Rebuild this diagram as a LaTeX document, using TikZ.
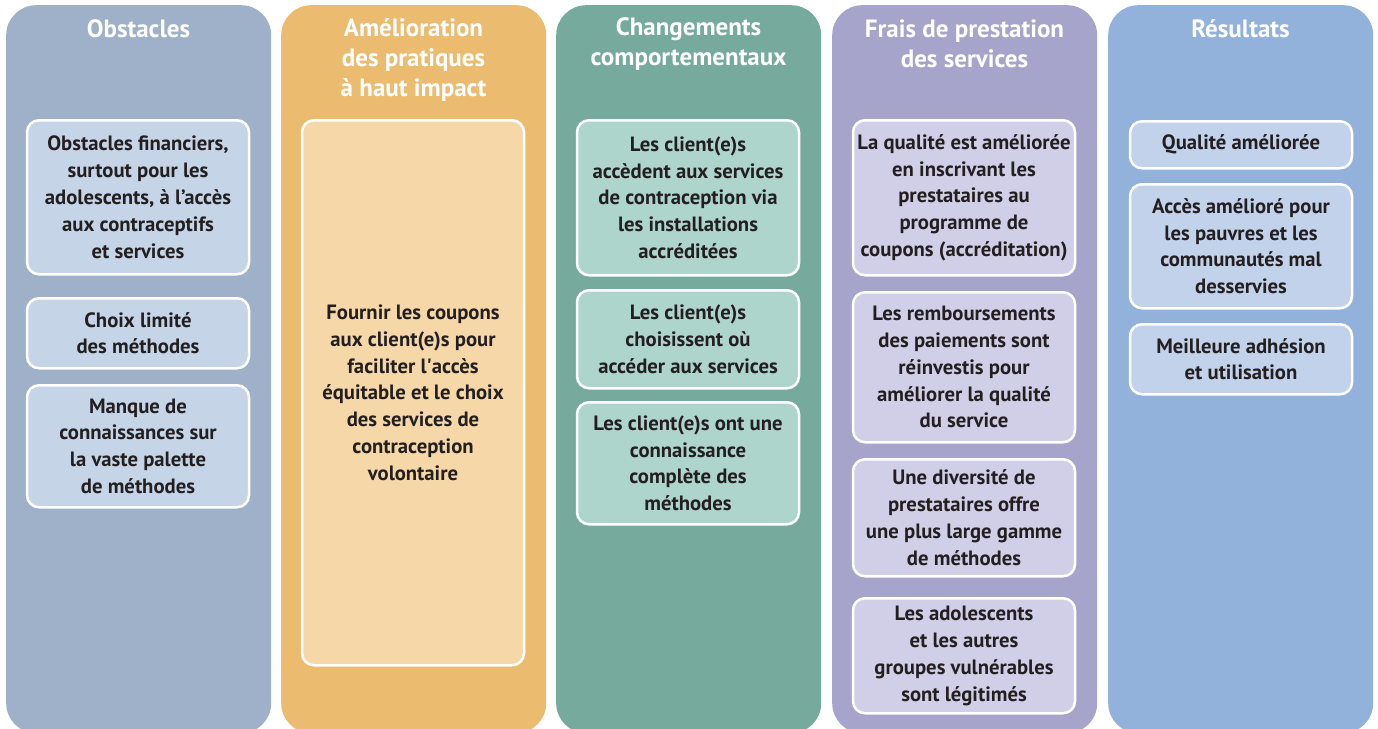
\documentclass[tikz,border=0pt]{standalone}
\usepackage{fontspec}
\setmainfont{PT Sans}
\definecolor{cA}{HTML}{9EB1C9}
\definecolor{cAi}{HTML}{C5D5E7}
\definecolor{cB}{HTML}{EBBC70}
\definecolor{cBi}{HTML}{F5D7A8}
\definecolor{cC}{HTML}{75AA9D}
\definecolor{cCi}{HTML}{AED5CC}
\definecolor{cD}{HTML}{A6A4CB}
\definecolor{cDi}{HTML}{D1CFE7}
\definecolor{cE}{HTML}{93B2DB}
\definecolor{cEi}{HTML}{C2D2EA}
\definecolor{txt}{HTML}{231F20}
\begin{document}
\begin{tikzpicture}[x=1pt,y=1pt,
  colbox/.style={draw=none, rounded corners=30pt, minimum width=265pt, minimum height=728pt, inner sep=0pt, anchor=north west},
  ttl/.style={text=white, font=\fontsize{25}{30}\selectfont\bfseries, align=center, inner sep=0pt},
  ibox/.style={draw=white, line width=2.5pt, rounded corners=12pt, minimum width=222pt, inner sep=0pt, anchor=north, text=txt, font=\fontsize{20.7}{26.8}\selectfont\bfseries, align=center}]
\useasboundingbox (0,0) rectangle (1378,-728);
\clip (0,0) rectangle (1378,-728);
\fill[white] (0,0) rectangle (1378,-728);
% columns
\node[colbox, fill=cA] (col1) at (6,-5) {};
\node[colbox, fill=cB] (col2) at (281,-5) {};
\node[colbox, fill=cC] (col3) at (556,-5) {};
\node[colbox, fill=cD] (col4) at (832,-5) {};
\node[colbox, fill=cE] (col5) at (1108,-5) {};
% titles
\node[ttl] (t1) at (138.5,-29) {Obstacles};
\node[ttl] (t2) at (413.5,-60) {Amélioration\\des pratiques\\à haut impact};
\node[ttl] (t3) at (688.5,-44) {Changements\\comportementaux};
\node[ttl] (t4) at (964.5,-44) {Frais de prestation\\des services};
\node[ttl] (t5) at (1240.5,-29) {Résultats};
% column 1
\node[ibox, fill=cAi, minimum height=154pt] (b11) at (138,-119) {Obstacles financiers,\\surtout pour les\\adolescents, à l’accès\\aux contraceptifs\\et services};
\node[ibox, fill=cAi, minimum height=70pt] (b12) at (138,-297) {Choix limité\\des méthodes};
\node[ibox, fill=cAi, minimum height=122pt] (b13) at (138,-384) {Manque de\\connaissances sur\\la vaste palette\\de méthodes};
% column 2
\node[ibox, fill=cBi, minimum height=545pt] (b21) at (413,-119) {Fournir les coupons\\aux client(e)s pour\\faciliter l\textquotesingle accès\\équitable et le choix\\des services de\\contraception\\volontaire};
% column 3
\node[ibox, fill=cCi, minimum height=155pt] (b31) at (688,-119) {Les client(e)s\\accèdent aux services\\de contraception via\\les installations\\accréditées};
\node[ibox, fill=cCi, minimum height=98pt] (b32) at (688,-289) {Les client(e)s\\choisissent où\\accéder aux services};
\node[ibox, fill=cCi, minimum height=122pt] (b33) at (688,-401) {Les client(e)s ont une\\connaissance\\complète des\\méthodes};
% column 4
\node[ibox, fill=cDi, minimum height=155pt] (b41) at (964,-119) {La qualité est améliorée\\en inscrivant les\\prestataires au\\programme de\\coupons (accréditation)};
\node[ibox, fill=cDi, minimum height=150pt] (b42) at (964,-291) {Les remboursements\\des paiements sont\\réinvestis pour\\améliorer la qualité\\du service};
\node[ibox, fill=cDi, minimum height=117pt] (b43) at (964,-458) {Une diversité de\\prestataires offre\\une plus large gamme\\de méthodes};
\node[ibox, fill=cDi, minimum height=115pt] (b44) at (964,-597) {Les adolescents\\et les autres\\groupes vulnérables\\sont légitimés};
% column 5
\node[ibox, fill=cEi, minimum height=47pt] (b51) at (1241,-120) {Qualité améliorée};
\node[ibox, fill=cEi, minimum height=124pt] (b52) at (1241,-183) {Accès amélioré pour\\les pauvres et les\\communautés mal\\desservies};
\node[ibox, fill=cEi, minimum height=70pt] (b53) at (1241,-323) {Meilleure adhésion\\et utilisation};
\end{tikzpicture}
\end{document}
